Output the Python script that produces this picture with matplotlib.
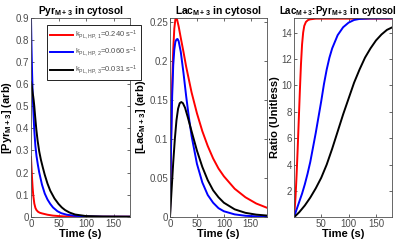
import matplotlib.pyplot as plt

plt.rcParams['font.family'] = ['Liberation Sans', 'DejaVu Sans']
plt.rcParams['mathtext.fontset'] = 'custom'
plt.rcParams['mathtext.rm'] = 'Liberation Sans'
plt.rcParams['mathtext.it'] = 'Liberation Sans'
plt.rcParams['mathtext.bf'] = 'Liberation Sans:bold'

# values
labels = [r'k$_{PL,HP,1}$=0.240 s$^{-1}$',
          r'k$_{PL,HP,2}$=0.060 s$^{-1}$',
          r'k$_{PL,HP,3}$=0.031 s$^{-1}$']
colors = ['red', 'blue', 'black']

# Pyr M+3
pyr_t_red = [0, 1, 2, 3, 4, 5, 6, 8, 10, 13, 16, 20, 25, 30, 40, 50, 60, 80, 100, 180]
pyr_red = [0.27, 0.22, 0.17, 0.13, 0.10, 0.08, 0.06, 0.04, 0.03, 0.022, 0.018, 0.015,
           0.012, 0.009, 0.005, 0.003, 0.0015, 0.0005, 0.0002, 0.0]
pyr_t_blue = [0, 1, 2, 3.4, 5, 6, 8, 10, 12.5, 15, 20, 25, 30, 35, 40, 48, 55, 65, 80,
              100, 130, 180]
pyr_blue = [0.90, 0.76, 0.65, 0.53, 0.44, 0.39, 0.32, 0.275, 0.235, 0.20, 0.145, 0.105,
            0.078, 0.058, 0.042, 0.025, 0.016, 0.009, 0.004, 0.0015, 0.0003, 0.0]
pyr_t_black = [0, 1, 2, 3, 4, 5, 6, 7.5, 9.7, 12, 15, 18, 21.6, 25, 30, 35, 42.6, 50,
               56, 62, 70, 80, 100, 130, 180]
pyr_black = [0.61, 0.60, 0.58, 0.56, 0.545, 0.525, 0.50, 0.455, 0.395, 0.345, 0.295,
             0.258, 0.222, 0.19, 0.15, 0.118, 0.083, 0.058, 0.042, 0.03, 0.019, 0.01,
             0.003, 0.0008, 0.0]

# Lac M+3
lac_t_red = [0, 2, 4, 6, 8, 10, 11, 13, 16, 20, 25, 30, 40, 50, 60, 70, 80, 90, 100,
             120, 140, 160, 180]
lac_red = [0, 0.10, 0.17, 0.215, 0.242, 0.254, 0.2555, 0.254, 0.245, 0.230, 0.212,
           0.193, 0.160, 0.133, 0.110, 0.091, 0.075, 0.062, 0.052, 0.036, 0.025,
           0.017, 0.0115]
lac_t_blue = [0, 2, 4, 6, 8, 10, 12, 14, 16, 20, 25, 30, 35, 40, 50, 60, 70, 80, 90,
              100, 120, 140, 160, 180]
lac_blue = [0, 0.09, 0.155, 0.195, 0.215, 0.225, 0.228, 0.2286, 0.226, 0.212, 0.185,
            0.155, 0.128, 0.104, 0.068, 0.044, 0.028, 0.018, 0.011, 0.007, 0.003,
            0.0012, 0.0005, 0.0002]
lac_t_black = [0, 3, 6, 9, 12, 15, 18, 21, 24, 28, 33, 40, 50, 60, 70, 80, 90, 100,
               120, 140, 160, 180]
lac_black = [0, 0.035, 0.07, 0.10, 0.124, 0.139, 0.146, 0.1475, 0.146, 0.14, 0.128,
             0.11, 0.085, 0.064, 0.047, 0.034, 0.025, 0.018, 0.0095, 0.005, 0.0027,
             0.0015]

# Lac:Pyr ratio
rat_t_red = [1, 3, 5, 7, 9, 11, 13, 15, 17, 19, 22, 26, 30, 40, 180]
rat_red = [0.3, 1.5, 3.2, 5.2, 7.4, 9.6, 11.6, 13.1, 14.0, 14.5, 14.8, 14.95, 15.0,
           15.05, 15.05]
rat_t_blue = [1, 5, 10, 15, 20, 25, 30, 35, 40, 45, 50, 55, 60, 65, 70, 80, 90, 100,
              110, 120, 140, 180]
rat_blue = [0.1, 0.6, 1.2, 1.8, 2.5, 3.3, 4.2, 5.3, 6.4, 7.6, 8.8, 10.1, 11.2, 12.1,
            12.8, 13.8, 14.4, 14.75, 14.95, 15.03, 15.07, 15.08]
rat_t_black = [1, 10, 20, 30, 40, 50, 60, 70, 80, 90, 100, 110, 120, 130, 140, 150,
               160, 170, 180]
rat_black = [0.03, 0.4, 0.9, 1.5, 2.2, 3.0, 4.0, 5.2, 6.5, 7.8, 9.0, 10.2, 11.2, 12.1,
             12.8, 13.4, 13.85, 14.2, 14.4]

fig = plt.figure(figsize=(4, 2.4), dpi=100)
ax1 = fig.add_axes([0.0775, 0.097, 0.2475, 0.828])
ax2 = fig.add_axes([0.425, 0.097, 0.2425, 0.828])
ax3 = fig.add_axes([0.736, 0.097, 0.245, 0.828])

gray = '#4d4d4d'
for ax in (ax1, ax2, ax3):
    ax.tick_params(direction='in', top=True, right=True, labelsize=7,
                   colors=gray, length=2.5, width=0.6, pad=1.5)
    for s in ax.spines.values():
        s.set_color(gray)
        s.set_linewidth(0.6)

lw = 1.4
tsize = 7.4
ax1.plot(pyr_t_red, pyr_red, color=colors[0], lw=lw, label=labels[0])
ax1.plot(pyr_t_blue, pyr_blue, color=colors[1], lw=lw, label=labels[1])
ax1.plot(pyr_t_black, pyr_black, color=colors[2], lw=lw, label=labels[2])
ax1.set_xlim(0, 180)
ax1.set_ylim(0, 0.9)
ax1.set_xticks([0, 50, 100, 150])
ax1.set_yticks([0, 0.1, 0.2, 0.3, 0.4, 0.5, 0.6, 0.7, 0.8, 0.9])
ax1.set_yticklabels(['0', '0.1', '0.2', '0.3', '0.4', '0.5', '0.6', '0.7', '0.8', '0.9'])
ax1.set_title(r'Pyr$_{\mathbf{M+3}}$ in cytosol', fontsize=tsize, fontweight='bold', pad=3)
ax1.set_ylabel(r'[Pyr$_{\mathbf{M+3}}$] (arb)', fontsize=8, fontweight='bold', labelpad=1)
ax1.set_xlabel('Time (s)', fontsize=8, fontweight='bold', labelpad=0)
leg = ax1.legend(loc='upper left', bbox_to_anchor=(46.7 / 400, 1 - 25 / 240),
                 bbox_transform=fig.transFigure, fontsize=5.4, fancybox=False,
                 edgecolor='black', framealpha=1, borderaxespad=0, handlelength=3.0,
                 handletextpad=0.3, labelspacing=0.55, borderpad=0.5)
leg.get_frame().set_linewidth(0.6)
for t in leg.get_texts():
    t.set_color(gray)

ax2.plot(lac_t_red, lac_red, color=colors[0], lw=lw)
ax2.plot(lac_t_blue, lac_blue, color=colors[1], lw=lw)
ax2.plot(lac_t_black, lac_black, color=colors[2], lw=lw)
ax2.set_xlim(0, 180)
ax2.set_ylim(0, 0.2556)
ax2.set_xticks([0, 50, 100, 150])
ax2.set_yticks([0, 0.05, 0.1, 0.15, 0.2, 0.25])
ax2.set_yticklabels(['0', '0.05', '0.1', '0.15', '0.2', '0.25'])
ax2.set_title(r'Lac$_{\mathbf{M+3}}$ in cytosol', fontsize=tsize, fontweight='bold', pad=3)
ax2.set_ylabel(r'[Lac$_{\mathbf{M+3}}$] (arb)', fontsize=8, fontweight='bold', labelpad=1)
ax2.set_xlabel('Time (s)', fontsize=8, fontweight='bold', labelpad=0)

ax3.plot(rat_t_red, rat_red, color=colors[0], lw=lw)
ax3.plot(rat_t_blue, rat_blue, color=colors[1], lw=lw)
ax3.plot(rat_t_black, rat_black, color=colors[2], lw=lw)
ax3.set_xlim(1, 180)
ax3.set_ylim(0.05, 15.1)
ax3.set_xticks([50, 100, 150])
ax3.set_yticks([2, 4, 6, 8, 10, 12, 14])
ax3.set_title(r'Lac$_{\mathbf{M+3}}$:Pyr$_{\mathbf{M+3}}$ in cytosol', fontsize=7,
              fontweight='bold', pad=3, x=0.44)
ax3.set_ylabel('Ratio (Unitless)', fontsize=8, fontweight='bold', labelpad=1)
ax3.set_xlabel('Time (s)', fontsize=8, fontweight='bold', labelpad=0)

fig.savefig('out.png', dpi=100)
